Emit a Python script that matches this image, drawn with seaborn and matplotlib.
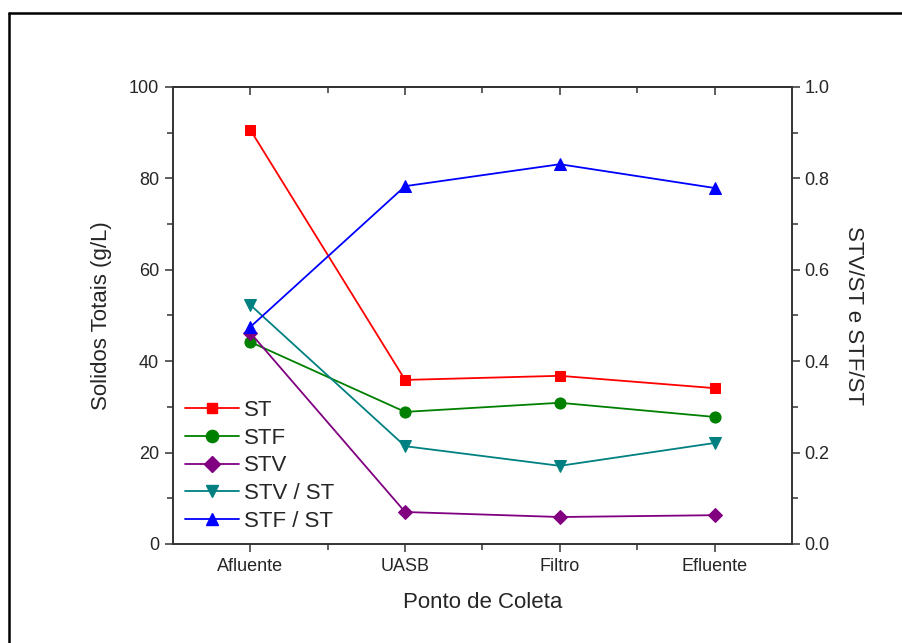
import numpy as np
import pandas as pd
import seaborn as sns
import matplotlib.pyplot as plt
from matplotlib.lines import Line2D
from matplotlib.ticker import MultipleLocator, FixedLocator

pontos = ['Afluente', 'UASB', 'Filtro', 'Efluente']
st = [90.6, 35.9, 36.8, 34.1]
stf = [44.2, 28.9, 30.9, 27.8]
stv = [46.2, 7.0, 5.9, 6.3]
stv_st = [0.523, 0.214, 0.171, 0.221]
stf_st = [0.475, 0.783, 0.831, 0.779]

sns.set_style("white")
plt.rcParams['font.family'] = ['Liberation Sans', 'DejaVu Sans']

fig = plt.figure(figsize=(9.03, 6.43), dpi=100)
ax = fig.add_axes([0.1916, 0.154, 0.877 - 0.1916, 0.8647 - 0.154])
ax2 = ax.twinx()

pos = np.arange(len(pontos))
df = pd.DataFrame({'pos': pos, 'ST': st, 'STF': stf, 'STV': stv,
                   'STV / ST': stv_st, 'STF / ST': stf_st})

left_series = [('ST', 's', '#ff0000', 7), ('STF', 'o', '#008000', 8), ('STV', 'D', '#800080', 7.5)]
right_series = [('STV / ST', 'v', '#008080', 8.5), ('STF / ST', '^', '#0000ff', 8.5)]

handles = []
for name, mk, col, ms in left_series:
    sns.lineplot(data=df, x='pos', y=name, ax=ax, color=col, marker=mk, markersize=ms,
                 markeredgecolor=col, linewidth=1.3)
    handles.append(Line2D([], [], color=col, marker=mk, markersize=ms, markeredgecolor=col, linewidth=1.3, label=name))
for name, mk, col, ms in right_series:
    sns.lineplot(data=df, x='pos', y=name, ax=ax2, color=col, marker=mk, markersize=ms,
                 markeredgecolor=col, linewidth=1.3)
    handles.append(Line2D([], [], color=col, marker=mk, markersize=ms, markeredgecolor=col, linewidth=1.3, label=name))

ax.set_xlim(-0.5, 3.5)
ax.set_ylim(0, 100)
ax2.set_ylim(0, 1.0)

ax.set_xticks(pos)
ax.set_xticklabels(pontos)
ax.xaxis.set_minor_locator(FixedLocator([0.5, 1.5, 2.5]))
ax.yaxis.set_major_locator(MultipleLocator(20))
ax.yaxis.set_minor_locator(MultipleLocator(10))
ax2.yaxis.set_major_locator(MultipleLocator(0.2))
ax2.yaxis.set_minor_locator(MultipleLocator(0.1))
ax2.yaxis.set_major_formatter(plt.FormatStrFormatter('%.1f'))

for a in (ax, ax2):
    for s in a.spines.values():
        s.set_color('#333333')
        s.set_linewidth(1.2)

ax.tick_params(axis='both', which='major', direction='out', length=6, width=1.1,
               color='#333333', labelsize=13, left=True, bottom=True, pad=4)
ax.tick_params(axis='both', which='minor', direction='out', length=4, width=1.1,
               color='#333333', left=True, bottom=True)
ax2.tick_params(axis='y', which='major', direction='out', length=6, width=1.1,
                color='#333333', labelsize=13, right=True, pad=3)
ax2.tick_params(axis='y', which='minor', direction='out', length=4, width=1.1,
                color='#333333', right=True)

top = ax.secondary_xaxis('top')
top.set_xticks(pos)
top.set_xticklabels([])
top.xaxis.set_minor_locator(FixedLocator([0.5, 1.5, 2.5]))
top.tick_params(which='major', direction='in', length=6, width=1.1, color='#333333')
top.tick_params(which='minor', direction='in', length=4, width=1.1, color='#333333')
top.spines['top'].set_color('#333333')
top.spines['top'].set_linewidth(1.2)

ax.set_xlabel('Ponto de Coleta', fontsize=16, labelpad=12)
ax.set_ylabel('Solidos Totais (g/L)', fontsize=16, labelpad=12)
ax2.set_ylabel('STV/ST e STF/ST', fontsize=16, rotation=270, labelpad=25)

ax2.legend(handles=handles, loc='lower left', bbox_to_anchor=(0.0, 0.0), frameon=False,
           fontsize=16, handlelength=2.4, labelspacing=0.3, handletextpad=0.25,
           borderaxespad=0.25, borderpad=0.3, markerscale=1.1)

# outer frame (only top and left edges visible)
fig.add_artist(Line2D([9 / 903, 9 / 903], [0, 1 - 12.5 / 643], color='black', linewidth=1.8,
                      transform=fig.transFigure))
fig.add_artist(Line2D([9 / 903, 1], [1 - 12.5 / 643, 1 - 12.5 / 643], color='black', linewidth=1.8,
                      transform=fig.transFigure))

fig.savefig('out.png', dpi=100)
